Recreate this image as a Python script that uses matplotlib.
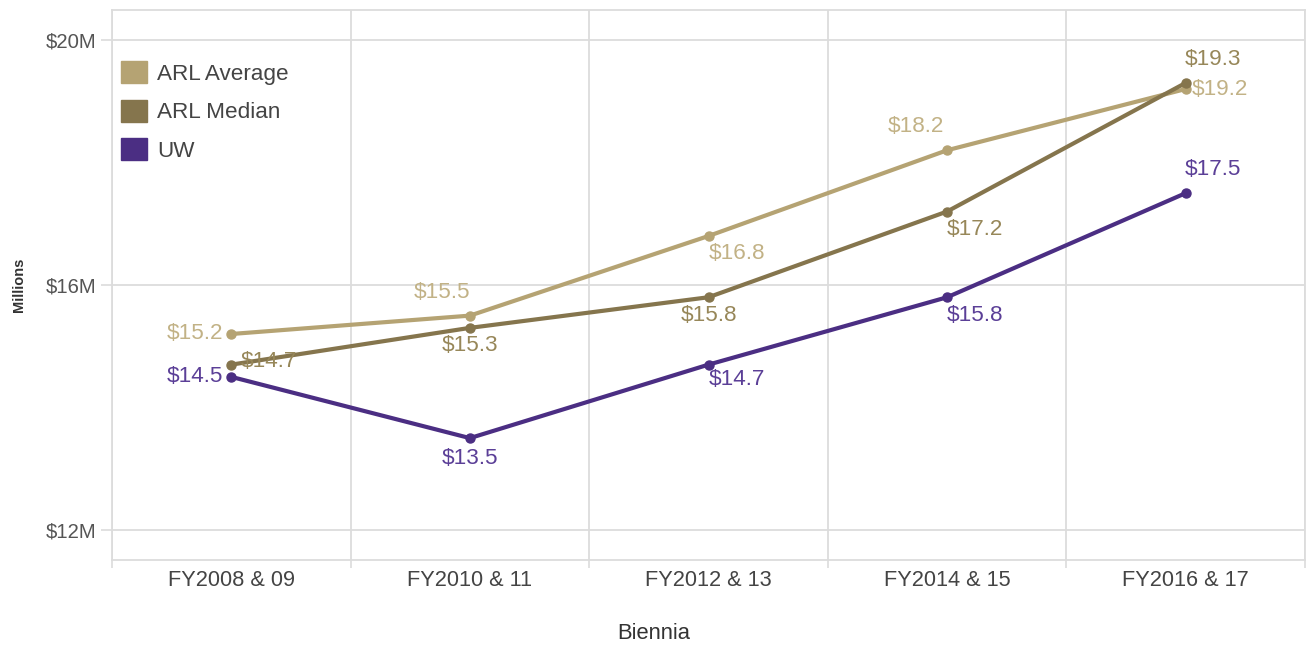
import matplotlib
matplotlib.use("Agg")
import matplotlib.pyplot as plt
from matplotlib.patches import Rectangle

plt.rcParams['font.family'] = ['Liberation Sans', 'DejaVu Sans']

# data (millions of dollars)
biennia = ["FY2008 & 09", "FY2010 & 11", "FY2012 & 13", "FY2014 & 15", "FY2016 & 17"]
arl_average = [15.2, 15.5, 16.8, 18.2, 19.2]
arl_median = [14.7, 15.3, 15.8, 17.2, 19.3]
uw = [14.5, 13.5, 14.7, 15.8, 17.5]

c_avg = "#b5a373"
c_med = "#85754d"
c_uw = "#4b2e83"
c_avg_lab = "#c2b286"
c_med_lab = "#978759"
c_uw_lab = "#5b3f97"
grid_c = "#dcdcdc"

fig = plt.figure(figsize=(13.07, 6.48), dpi=100)
ax = fig.add_axes([112 / 1307, 88 / 648, 1193 / 1307, 550 / 648])

x = list(range(len(biennia)))
for vals, col in [(arl_average, c_avg), (arl_median, c_med), (uw, c_uw)]:
    ax.plot(x, vals, color=col, lw=3, marker='o', ms=6.5, solid_capstyle='round', zorder=3)

# label placement per point: (dx, dy, ha, va) in pixels
pos_avg = [(-8, 0, 'right', 'center'), (0, 23, 'right', 'center'), (0, -17, 'left', 'center'),
           (-3, 24, 'right', 'center'), (6, 0, 'left', 'center')]
pos_med = [(9, 3, 'left', 'center'), (0, -18, 'center', 'center'), (0, -18, 'center', 'center'),
           (0, -18, 'left', 'center'), (-1, 23, 'left', 'center')]
pos_uw = [(-8, 0, 'right', 'center'), (0, -20, 'center', 'center'), (0, -15, 'left', 'center'),
          (0, -18, 'left', 'center'), (-1, 24, 'left', 'center')]

for vals, poss, col in [(arl_average, pos_avg, c_avg_lab), (arl_median, pos_med, c_med_lab),
                        (uw, pos_uw, c_uw_lab)]:
    for i, v in enumerate(vals):
        dx, dy, ha, va = poss[i]
        ax.annotate("$%.1f" % v, (i, v), xytext=(dx, dy), textcoords='offset pixels',
                    ha=ha, va=va, color=col, fontsize=16.2, zorder=4)

ax.set_xlim(-0.5, 4.5)
ax.set_ylim(11.51, 20.49)
ax.set_yticks([12, 16, 20])
ax.set_yticklabels(["$12M", "$16M", "$20M"])
ax.set_xticks(x)
ax.set_xticklabels(biennia)
ax.set_xticks([i - 0.5 for i in range(len(biennia) + 1)], minor=True)

ax.tick_params(axis='x', which='major', length=0, pad=7, labelsize=15.7, labelcolor="#444444")
ax.tick_params(axis='x', which='minor', length=6, color=grid_c, width=1.2)
ax.tick_params(axis='y', length=8, color=grid_c, width=1.2, pad=3, labelsize=14.6, labelcolor="#555555")

ax.grid(True, axis='y', which='major', color=grid_c, lw=1.3)
ax.grid(True, axis='x', which='minor', color=grid_c, lw=1.3)
ax.set_axisbelow(True)
for s in ax.spines.values():
    s.set_color(grid_c)
    s.set_linewidth(1.3)

ax.set_ylabel("Millions", fontsize=10.5, fontweight='bold', color="#333333")
ax.set_xlabel("Biennia", fontsize=15.8, color="#333333", va='center')
ax.yaxis.set_label_coords(-0.072, 0.5)
ax.xaxis.set_label_coords(0.454, -0.133)

handles = [Rectangle((0, 0), 1, 1, color=c) for c in (c_avg, c_med, c_uw)]
leg = ax.legend(handles, ["ARL Average", "ARL Median", "UW"], loc='upper left',
                bbox_to_anchor=(0.0075, 0.907), borderaxespad=0, borderpad=0, frameon=False,
                fontsize=16.2, handlelength=1.15, handleheight=1.15, handletextpad=0.45,
                labelspacing=0.65)
for t in leg.get_texts():
    t.set_color("#444444")

fig.savefig("out.png", dpi=100)
